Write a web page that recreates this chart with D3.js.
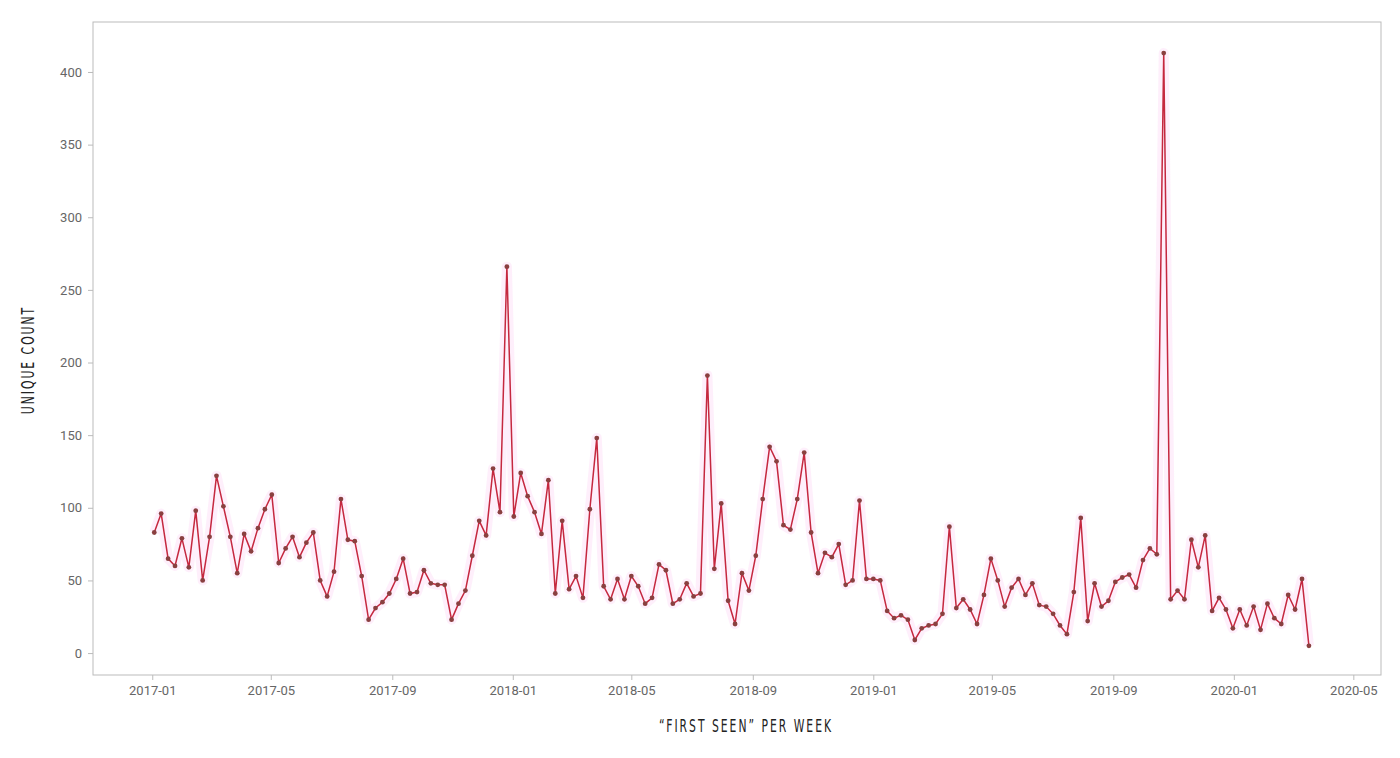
<!DOCTYPE html>
<html><head><meta charset="utf-8">
<script src="https://cdn.jsdelivr.net/npm/d3@7"></script>
<style>body{margin:0;background:#fff}text{font-family:Roboto,sans-serif}</style>
</head><body><svg id="c" width="1400" height="758"></svg>
<script>
const startDate = "2017-01-01";
const values2017 = [83,96,65,60,79,59,98,50,80,122,101,80,55,82,70,86,99,109,62,72,80,66,76,83,50,39,56,106,78,77,53,23,31,35,41,51,65,41,42,57,48,47,47,23,34,43,67,91,81,127,97,266];
const values2018 = [94,124,108,97,82,119,41,91,44,53,38,99,148,46,37,51,37,53,46,34,38,61,57,34,37,48,39,41,191,58,103,36,20,55,43,67,106,142,132,88,85,106,138,83,55,69,66,75,47,50,105,51];
const values2019 = [51,50,29,24,26,23,9,17,19,20,27,87,31,37,30,20,40,65,50,32,45,51,40,48,33,32,27,19,13,42,93,22,48,32,36,49,52,54,45,64,72,68,413,37,43,37,78,59,81,29,38,30];
const values2020 = [17,30,19,32,16,34,24,20,40,30,51,5];
const yTicks = [0,50,100,150,200,250,300,350,400];
const xTickLabels = ["2017-01","2017-05","2017-09","2018-01","2018-05","2018-09","2019-01","2019-05","2019-09","2020-01","2020-05"];

const all = values2017.concat(values2018, values2019, values2020);
const t0 = d3.utcParse("%Y-%m-%d")(startDate);
const data = all.map((v,i)=>({d:d3.utcDay.offset(t0,i*7),v}));
const svg = d3.select("#c");
const L=93,R=1381,T=22,B=675;
const x = d3.scaleUtc().domain([new Date(Date.UTC(2016,10,2)),new Date(Date.UTC(2020,4,29))]).range([L,R]);
const y = d3.scaleLinear().domain([-15.1,434.4]).range([B,T]);
svg.append("rect").attr("x",L).attr("y",T).attr("width",R-L).attr("height",B-T).attr("fill","none").attr("stroke","#bbb");
const pm = d3.utcParse("%Y-%m");
const xa = svg.append("g").attr("transform",`translate(0,${B})`).call(d3.axisBottom(x).tickValues(xTickLabels.map(pm)).tickFormat(d3.utcFormat("%Y-%m")).tickSize(5).tickPadding(6));
const ya = svg.append("g").attr("transform",`translate(${L},0)`).call(d3.axisLeft(y).tickValues(yTicks).tickSize(5).tickPadding(6));
[xa,ya].forEach(a=>{a.select(".domain").remove();a.selectAll("line").attr("stroke","#bbb");a.selectAll("text").attr("fill","#666").style("font-size","13px");});
const line = d3.line().x(d=>x(d.d)+2).y(d=>y(d.v));
svg.append("path").datum(data).attr("d",line).attr("fill","none").attr("stroke","#fde0f8").attr("stroke-width",10).attr("stroke-linejoin","round").attr("opacity",0.5);
svg.append("path").datum(data).attr("d",line).attr("fill","none").attr("stroke","#c5283f").attr("stroke-width",1.5);
svg.selectAll("circle").data(data).join("circle").attr("cx",d=>x(d.d)+2).attr("cy",d=>y(d.v)).attr("r",2.4).attr("fill","#8a4040");
svg.append("text").attr("transform","translate(746,732) scale(0.8,1.15)").attr("text-anchor","middle").style("font-family","'DejaVu Sans Condensed'").attr("font-size",15).attr("letter-spacing","2.5px").attr("fill","#222").text("“FIRST SEEN” PER WEEK");
svg.append("text").attr("transform","translate(34,360) rotate(-90) scale(0.8,1.15)").attr("text-anchor","middle").style("font-family","'DejaVu Sans Condensed'").attr("font-size",15).attr("letter-spacing","2.5px").attr("fill","#222").text("UNIQUE COUNT");
</script></body></html>
